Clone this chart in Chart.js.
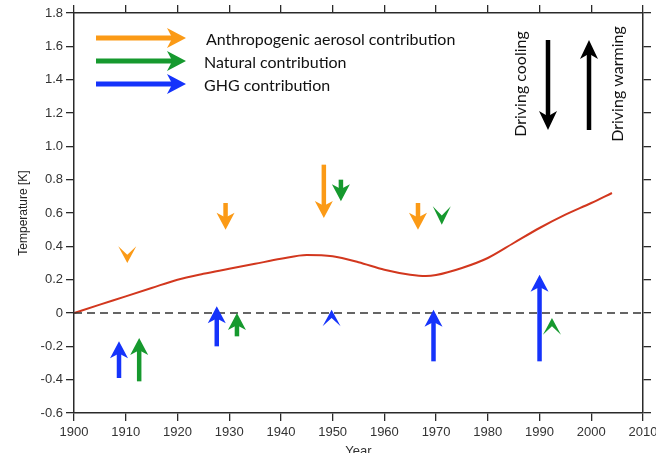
<!DOCTYPE html>
<html>
<head>
<meta charset="utf-8">
<script src="https://cdn.jsdelivr.net/npm/chart.js@4.4.0/dist/chart.umd.min.js"></script>
<style>
  html, body { margin: 0; padding: 0; background: #fff; }
  .chart-box { width: 656px; height: 453px; position: relative; }
</style>
</head>
<body>
<div class="chart-box"><canvas id="tempChart" width="656" height="453"></canvas></div>
<script>
  // temperature curve
  const curveYears = [1900, 1905, 1910, 1915, 1920, 1925, 1930, 1935, 1940, 1945, 1950, 1955,
    1960, 1965, 1968, 1970, 1975, 1980, 1985, 1990, 1995, 2000, 2004];
  const curveTemps = [0, 0.05, 0.1, 0.15, 0.2, 0.235, 0.265, 0.295, 0.325, 0.348, 0.34, 0.305,
    0.26, 0.23, 0.222, 0.228, 0.27, 0.33, 0.42, 0.51, 0.59, 0.66, 0.72];

  // contribution arrows: year, start value, end (tip) value
  const aerosolYears = [1910.3, 1929.3, 1948.3, 1966.5];
  const aerosolFrom = [0.40, 0.66, 0.89, 0.66];
  const aerosolTo = [0.30, 0.50, 0.57, 0.50];

  const naturalYears = [1912.6, 1931.5, 1951.6, 1971.1, 1992.4];
  const naturalFrom = [-0.41, -0.14, 0.80, 0.64, -0.13];
  const naturalTo = [-0.15, 0.0, 0.67, 0.53, -0.03];

  const ghgYears = [1908.7, 1927.6, 1949.8, 1969.5, 1990.0];
  const ghgFrom = [-0.39, -0.20, -0.08, -0.29, -0.29];
  const ghgTo = [-0.17, 0.04, 0.02, 0.02, 0.23];

  const legendLabels = ["Anthropogenic aerosol contribution", "Natural contribution", "GHG contribution"];
  const yTicks = [-0.6, -0.4, -0.2, 0, 0.2, 0.4, 0.6, 0.8, 1.0, 1.2, 1.4, 1.6, 1.8];

  // colours
  const orange = "#fb9a16";
  const green = "#16992e";
  const blue = "#1533fb";
  const axisColor = "#2a2a2a";
  const tickFont = { family: "Liberation Sans, Arial, sans-serif", size: 13 };

  function drawArrow(ctx, x0, y0, x1, y1, color, shaftW, headLen, headHalf) {
    const dx = x1 - x0, dy = y1 - y0;
    const len = Math.sqrt(dx * dx + dy * dy);
    const ux = dx / len, uy = dy / len;
    const px = -uy, py = ux;
    let notch = headLen * 0.28;
    if (len < headLen + 3) {
      headLen = len;
      notch = len * 0.5;
    }
    ctx.save();
    ctx.fillStyle = color;
    ctx.strokeStyle = color;
    if (len > headLen + 1) {
      ctx.lineWidth = shaftW;
      ctx.lineCap = "butt";
      ctx.beginPath();
      ctx.moveTo(x0, y0);
      ctx.lineTo(x1 - ux * (headLen - notch - 1), y1 - uy * (headLen - notch - 1));
      ctx.stroke();
    }
    const bx = x1 - ux * headLen, by = y1 - uy * headLen;
    ctx.beginPath();
    ctx.moveTo(x1, y1);
    ctx.lineTo(bx + px * headHalf, by + py * headHalf);
    ctx.lineTo(x1 - ux * (headLen - notch), y1 - uy * (headLen - notch));
    ctx.lineTo(bx - px * headHalf, by - py * headHalf);
    ctx.closePath();
    ctx.fill();
    ctx.restore();
  }

  const arrowPlugin = {
    id: "arrows",
    afterDatasetsDraw(chart) {
      const ctx = chart.ctx;
      const xs = chart.scales.x, ys = chart.scales.y;
      const groups = [
        [aerosolYears, aerosolFrom, aerosolTo, orange],
        [naturalYears, naturalFrom, naturalTo, green],
        [ghgYears, ghgFrom, ghgTo, blue],
      ];
      groups.forEach(([yrs, from, to, col]) => {
        yrs.forEach((yr, i) => {
          const x = xs.getPixelForValue(yr);
          drawArrow(ctx, x, ys.getPixelForValue(from[i]), x, ys.getPixelForValue(to[i]), col, 4.5, 17, 9);
        });
      });

      // legend
      const area = chart.chartArea;
      const lx = area.left + 22;
      const legendCols = [orange, green, blue];
      ctx.save();
      ctx.font = "16px Lato, 'Open Sans', sans-serif";
      ctx.fillStyle = "#111";
      ctx.textBaseline = "middle";
      legendLabels.forEach((lbl, i) => {
        const ly = area.top + 25 + i * 23;
        drawArrow(ctx, lx, ly, lx + 90, ly, legendCols[i], 5, 19, 10);
        ctx.fillText(lbl, lx + (i === 0 ? 110 : 108), ly + 2);
      });

      // driving cooling / warming
      drawArrow(ctx, 548, 40, 548, 130, "#000", 4.5, 19, 9);
      drawArrow(ctx, 589, 130, 589, 40, "#000", 4.5, 19, 9);
      ctx.font = "16px Lato, 'Open Sans', sans-serif";
      ctx.textAlign = "center";
      ctx.save();
      ctx.translate(521, 84);
      ctx.rotate(-Math.PI / 2);
      ctx.fillText("Driving cooling", 0, 0);
      ctx.restore();
      ctx.save();
      ctx.translate(618, 84);
      ctx.rotate(-Math.PI / 2);
      ctx.fillText("Driving warming", 0, 0);
      ctx.restore();
      ctx.restore();
    }
  };

  const lineData = curveYears.map((yr, i) => ({ x: yr, y: curveTemps[i] }));

  function outerGrid() {
    return { drawOnChartArea: false, drawTicks: true, tickLength: 8, color: axisColor, lineWidth: 1.3 };
  }

  function fixHeight(h) {
    return (s) => { s.height = h; s.paddingLeft = 0; s.paddingRight = 0; };
  }
  function fixWidth(w) {
    return (s) => { s.width = w; s.paddingTop = 0; s.paddingBottom = 0; };
  }

  new Chart(document.getElementById("tempChart"), {
    type: "line",
    data: {
      datasets: [
        {
          data: [{ x: 1900, y: 0 }, { x: 2010, y: 0 }],
          borderColor: "#333",
          borderWidth: 1.5,
          borderDash: [8, 5],
          pointRadius: 0,
        },
        {
          data: lineData,
          borderColor: "#d2371e",
          borderWidth: 2,
          pointRadius: 0,
          cubicInterpolationMode: "monotone",
        },
      ],
    },
    options: {
      responsive: false,
      animation: false,
      events: [],
      layout: { padding: 0 },
      plugins: { legend: { display: false }, tooltip: { enabled: false } },
      scales: {
        x: {
          type: "linear", position: "bottom", min: 1900, max: 2010,
          afterFit: fixHeight(40),
          border: { display: true, color: axisColor, width: 1.5 },
          grid: outerGrid(),
          ticks: { stepSize: 10, color: "#333", font: tickFont, padding: 4, maxRotation: 0,
            autoSkip: false, callback: (v) => String(v) },
          title: { display: true, text: "Year", color: "#333", font: tickFont,
            padding: { top: 0, bottom: -6 } },
        },
        x2: {
          type: "linear", position: "top", min: 1900, max: 2010,
          afterFit: fixHeight(13),
          border: { display: true, color: axisColor, width: 1.5 },
          grid: outerGrid(),
          ticks: { stepSize: 10, display: false, autoSkip: false },
        },
        y: {
          type: "linear", position: "left", min: -0.6, max: 1.8,
          afterFit: fixWidth(74),
          afterBuildTicks(s) { s.ticks = yTicks.map((v) => ({ value: v })); },
          border: { display: true, color: axisColor, width: 1.5 },
          grid: outerGrid(),
          ticks: { color: "#333", font: tickFont, padding: 3, autoSkip: false,
            callback: (v) => (Math.abs(v) < 1e-9 ? "0" : v.toFixed(1)) },
          title: { display: true, text: "Temperature [K]", color: "#222",
            font: { family: "Liberation Sans, Arial, sans-serif", size: 12 }, padding: { top: 16, bottom: 0 } },
        },
        y2: {
          type: "linear", position: "right", min: -0.6, max: 1.8,
          afterFit: fixWidth(13),
          afterBuildTicks(s) { s.ticks = yTicks.map((v) => ({ value: v })); },
          border: { display: true, color: axisColor, width: 1.5 },
          grid: outerGrid(),
          ticks: { display: false, autoSkip: false },
        },
      },
    },
    plugins: [arrowPlugin],
  });
</script>
</body>
</html>
